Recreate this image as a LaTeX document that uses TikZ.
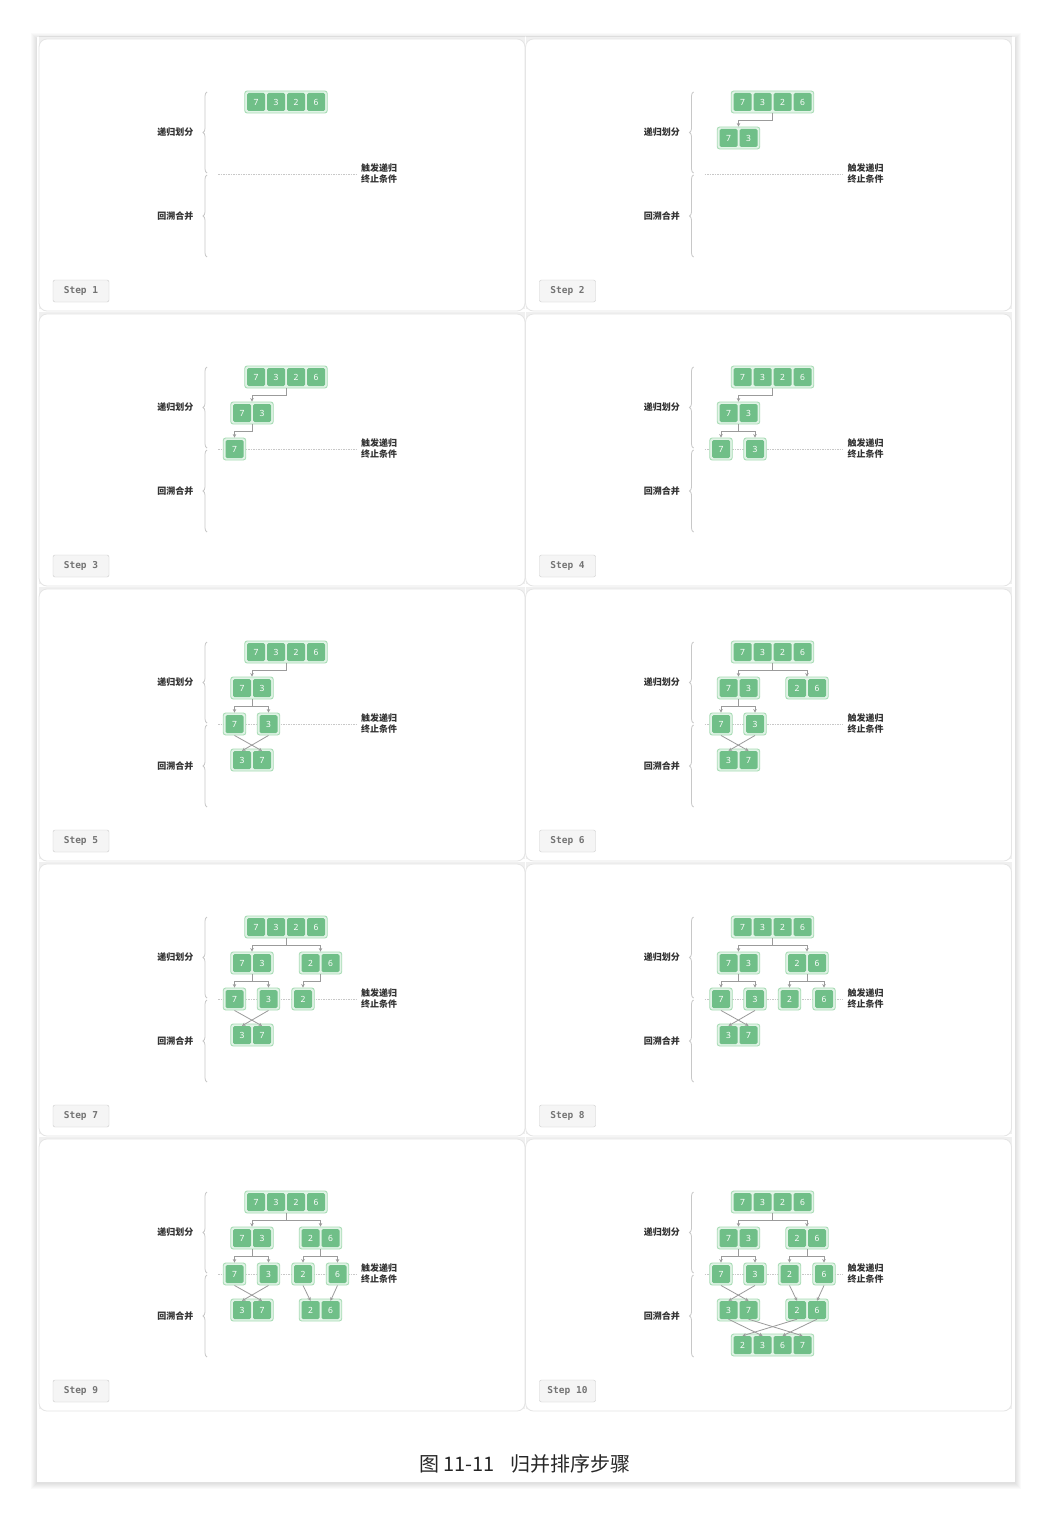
\documentclass[tikz,border=0pt]{standalone}
\usepackage{fontspec}
\setsansfont{Noto Sans}
\setmonofont{DejaVu Sans Mono}
\newfontfamily\cjk{Noto Sans CJK SC}
\usetikzlibrary{arrows.meta,decorations.pathreplacing,calc}
\definecolor{cellg}{HTML}{70BF88}
\definecolor{boxb}{HTML}{A8DCB5}
\definecolor{boxf}{HTML}{E2F4E7}
\definecolor{lnk}{HTML}{9B9B9B}
\definecolor{brcol}{HTML}{C8C8C8}
\definecolor{labcol}{HTML}{333333}
\tikzset{
  arrbox/.style={draw=boxb, fill=boxf, rounded corners=2.5pt, line width=0.9pt, minimum height=22pt, inner sep=0pt},
  cellbox/.style={fill=cellg, rounded corners=1.5pt, minimum width=18pt, minimum height=18pt, inner sep=0pt, text=white, font=\sffamily\fontsize{8.5}{8.5}\selectfont},
  conn/.style={draw=lnk, line width=0.8pt, -{Stealth[length=3.5pt,width=3.5pt]}},
  dashln/.style={draw=brcol, line width=0.7pt, dash pattern=on 1.5pt off 1pt},
  bracest/.style={draw=brcol, line width=0.8pt, decorate, decoration={brace, amplitude=4pt}},
  lab/.style={inner sep=0pt, text=labcol, font=\cjk\bfseries\fontsize{9}{11}\selectfont},
  stepbox/.style={draw=black!20, fill=black!4, rounded corners=2pt, minimum width=56pt, minimum height=22pt, inner sep=0pt, text=black!55, font=\ttfamily\bfseries\fontsize{9.5}{10}\selectfont},
  panelst/.style={draw=black!10, fill=white, rounded corners=8pt, line width=0.8pt},
}
\newcommand\mkarr[5]{%
  \node[arrbox, minimum width=#4*20pt+2.5pt] (#1) at (#2,#3) {};
  \foreach \v [count=\i] in {#5} {\node[cellbox] (#1-\i) at ({#2+(\i-(#4+1)/2)*20},#3) {\v};}
}
\newcommand\drawpanel[3]{%
\begin{scope}[shift={(#2,#3)}]
  \fill[black, opacity=0.06] (39,36.5) rectangle (525,309);
  \draw[panelst] (39,39) rectangle (525,311);
  \draw[bracest] (207,173) -- (207,92);
  \draw[bracest] (207,257) -- (207,175);
  \node[lab, anchor=east] (p#1-ld) at (193.5,132) {递归划分};
  \node[lab, anchor=east] (p#1-lm) at (193.5,216) {回溯合并};
  \node[lab, anchor=west, align=left] (p#1-lt) at (361,174) {触发递归\\终止条件};
  \coordinate (p#1-ds) at (218,174);
  \draw[dashln, shorten >=5pt] (p#1-ds) -- (p#1-lt.west);
  \node[stepbox] (p#1-st) at (81,291) {Step #1};
  \mkarr{p#1-a0}{286}{102}{4}{7,3,2,6}
  \ifnum#1>1
    \mkarr{p#1-a1l}{252}{138}{2}{7,3}
    \draw[conn] (p#1-a0.south) -- ++(0,7) -| (p#1-a1l.north);
  \fi
  \ifnum#1>2
    \mkarr{p#1-s7}{234.5}{174}{1}{7}
    \draw[conn] (p#1-a1l.south) -- ++(0,7) -| (p#1-s7.north);
  \fi
  \ifnum#1>3
    \mkarr{p#1-s3}{268.5}{174}{1}{3}
    \draw[conn] (p#1-a1l.south) -- ++(0,7) -| (p#1-s3.north);
  \fi
  \ifnum#1>4
    \mkarr{p#1-a3l}{252}{210}{2}{3,7}
    \draw[conn] (p#1-s7.south) -- (p#1-a3l-2.north);
    \draw[conn] (p#1-s3.south) -- (p#1-a3l-1.north);
  \fi
  \ifnum#1>5
    \mkarr{p#1-a1r}{320.5}{138}{2}{2,6}
    \draw[conn] (p#1-a0.south) -- ++(0,7) -| (p#1-a1r.north);
  \fi
  \ifnum#1>6
    \mkarr{p#1-s2}{303}{174}{1}{2}
    \draw[conn] (p#1-a1r.south) -- ++(0,7) -| (p#1-s2.north);
  \fi
  \ifnum#1>7
    \mkarr{p#1-s6}{337.5}{174}{1}{6}
    \draw[conn] (p#1-a1r.south) -- ++(0,7) -| (p#1-s6.north);
  \fi
  \ifnum#1>8
    \mkarr{p#1-a3r}{320.5}{210}{2}{2,6}
    \draw[conn] (p#1-s2.south) -- (p#1-a3r-1.north);
    \draw[conn] (p#1-s6.south) -- (p#1-a3r-2.north);
  \fi
  \ifnum#1>9
    \mkarr{p#1-a4}{286}{245}{4}{2,3,6,7}
    \draw[conn] (p#1-a3l-1.south) -- (p#1-a4-2.north);
    \draw[conn] (p#1-a3l-2.south) -- (p#1-a4-4.north);
    \draw[conn] (p#1-a3r-1.south) -- (p#1-a4-1.north);
    \draw[conn] (p#1-a3r-2.south) -- (p#1-a4-3.north);
  \fi
\end{scope}}
\begin{document}
\begin{tikzpicture}[x=1pt,y=-1pt]
  \useasboundingbox (0,0) rectangle (1051,1517);
  \fill[white] (0,0) rectangle (1051,1517);
  \foreach \k in {1,...,6} {\fill[black, opacity=0.02] ({37-\k},{37-\k+2}) rectangle ({1015+\k},{1482+\k+1});}
  \fill[white] (37,37) rectangle (1015,1482);
  \drawpanel{1}{0}{0}
  \drawpanel{2}{486.5}{0}
  \drawpanel{3}{0}{275}
  \drawpanel{4}{486.5}{275}
  \drawpanel{5}{0}{550}
  \drawpanel{6}{486.5}{550}
  \drawpanel{7}{0}{825}
  \drawpanel{8}{486.5}{825}
  \drawpanel{9}{0}{1100}
  \drawpanel{10}{486.5}{1100}
  \node[font=\cjk\fontsize{20}{20}\selectfont, text=black!85] (cap) at (525,1464) {图 11-11\hspace{16pt}归并排序步骤};
\end{tikzpicture}
\end{document}
